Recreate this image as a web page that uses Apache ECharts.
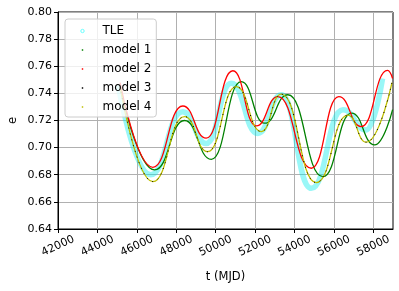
<!DOCTYPE html>
<html><head><meta charset="utf-8">
<script src="https://cdn.jsdelivr.net/npm/echarts@6/dist/echarts.min.js"></script>
<style>html,body{margin:0;padding:0;background:#fff}#c{width:399px;height:291px}</style>
</head><body><div id="c"></div>
<script>
const xTicks = [42000, 44000, 46000, 48000, 50000, 52000, 54000, 56000, 58000];
const yTicks = [0.64, 0.66, 0.68, 0.70, 0.72, 0.74, 0.76, 0.78, 0.80];

const tleT = [45050, 46700, 48335, 49520, 50790, 52140, 53330, 54850, 56460, 57640, 58470];
const tleE = [0.746, 0.680, 0.7265, 0.703, 0.7475, 0.7105, 0.739, 0.670, 0.728, 0.713, 0.751];

const m1T = [45150, 46900, 48420, 49780, 51300, 52480, 53665, 55440, 56900, 58070, 58980];
const m1E = [0.745, 0.6836, 0.720, 0.6914, 0.7486, 0.718, 0.739, 0.6786, 0.7255, 0.702, 0.728];

const m2T = [45150, 46810, 48335, 49520, 50873, 52060, 53157, 54853, 56250, 57390, 58725, 58980];
const m2E = [0.748, 0.6855, 0.7307, 0.707, 0.7567, 0.716, 0.7376, 0.6848, 0.7376, 0.7155, 0.757, 0.751];

const m3T = [45150, 46810, 48420, 49590, 51045, 52314, 53330, 55107, 56710, 57644, 58950];
const m3E = [0.745, 0.675, 0.7229, 0.697, 0.745, 0.7118, 0.7394, 0.6742, 0.724, 0.704, 0.748];

const m4T = [45150, 46810, 48420, 49590, 51045, 52314, 53330, 55107, 56710, 57644, 58950];
const m4E = [0.745, 0.675, 0.7229, 0.697, 0.745, 0.7118, 0.7394, 0.6742, 0.724, 0.704, 0.748];

const zip = (t, e) => t.map((v, i) => [v, e[i]]);
const FONT = 'DejaVu Sans';
const dotIcon = 'path://M0,0L0,0.01Z M10,10L10,10.01Z M3.8,3.8H6.2V6.2H3.8Z';
const ringIcon = 'path://M0,0L0,0.01Z M10,10L10,10.01Z M5,2.2A2.8,2.8 0 1,1 4.99,2.2Z';

function lineSeries(name, data, color, width, extra) {
  return Object.assign({
    name: name, type: 'line', data: data, showSymbol: false, symbol: 'none',
    smooth: 0.5, smoothMonotone: 'x',
    lineStyle: { color: color, width: width }, itemStyle: { color: color },
    emphasis: { disabled: true }, animation: false
  }, extra || {});
}

const chart = echarts.init(document.getElementById('c'), null, { renderer: 'canvas' });
chart.setOption({
  animation: false,
  textStyle: { fontFamily: FONT },
  grid: { left: 58, right: 6, top: 12, bottom: 62, show: true, borderColor: '#000', borderWidth: 1, containLabel: false, outerBoundsMode: 'none' },
  legend: {
    orient: 'vertical', left: 65, top: 19,
    padding: [5, 5, 3, 14],
    backgroundColor: 'rgba(255,255,255,0.8)', borderColor: '#cccccc', borderWidth: 1, borderRadius: 3,
    itemWidth: 30, itemHeight: 6, itemGap: 5,
    textStyle: { fontFamily: FONT, fontSize: 12, color: '#000', lineHeight: 14 },
    selectedMode: false,
    data: [
      { name: 'TLE', icon: ringIcon, itemStyle: { color: 'rgba(0,0,0,0)', borderColor: '#66ffff', borderWidth: 1 } },
      { name: 'model 1', icon: dotIcon, itemStyle: { color: '#008000', borderWidth: 0 } },
      { name: 'model 2', icon: dotIcon, itemStyle: { color: '#ff0000', borderWidth: 0 } },
      { name: 'model 3', icon: dotIcon, itemStyle: { color: '#000000', borderWidth: 0 } },
      { name: 'model 4', icon: dotIcon, itemStyle: { color: '#bfbf00', borderWidth: 0 } }
    ]
  },
  xAxis: {
    type: 'value', min: 42000, max: 59000, interval: 2000,
    name: 't (MJD)', nameLocation: 'middle', nameGap: 42, nameMoveOverlap: false,
    nameTextStyle: { fontFamily: FONT, fontSize: 11.5, color: '#000' },
    axisLine: { show: true, onZero: false, lineStyle: { color: '#000', width: 1 } },
    axisTick: { show: true, length: 4, lineStyle: { color: '#000' }, customValues: xTicks },
    axisLabel: { customValues: xTicks, rotate: 25, align: 'center', verticalAlign: 'middle', margin: 17,
      fontFamily: FONT, fontSize: 11, color: '#000', formatter: v => String(v) },
    splitLine: { show: true, lineStyle: { color: '#b0b0b0', width: 1 } }
  },
  yAxis: {
    type: 'value', min: 0.64, max: 0.80, interval: 0.02,
    name: 'e', nameLocation: 'middle', nameGap: 39, nameMoveOverlap: false,
    nameTextStyle: { fontFamily: FONT, fontSize: 11.5, color: '#000' },
    axisLine: { show: true, onZero: false, lineStyle: { color: '#000', width: 1 } },
    axisTick: { show: true, length: 4, lineStyle: { color: '#000' }, customValues: yTicks },
    axisLabel: { customValues: yTicks, margin: 6, fontFamily: FONT, fontSize: 11, color: '#000', formatter: v => Number(v).toFixed(2) },
    splitLine: { show: true, lineStyle: { color: '#b0b0b0', width: 1 } }
  },
  series: [
    lineSeries('TLE', zip(tleT, tleE), 'rgba(0,235,235,0.4)', 5.5),
    lineSeries('model 1', zip(m1T, m1E), '#008000', 1.3),
    lineSeries('model 2', zip(m2T, m2E), '#ff0000', 1.3),
    lineSeries('model 4', zip(m4T, m4E), '#bfbf00', 1.3),
    lineSeries('model 3', zip(m3T, m3E), '#000000', 1, { lineStyle: { color: '#000', width: 1, type: [1, 5] } })
  ]
});
</script></body></html>
